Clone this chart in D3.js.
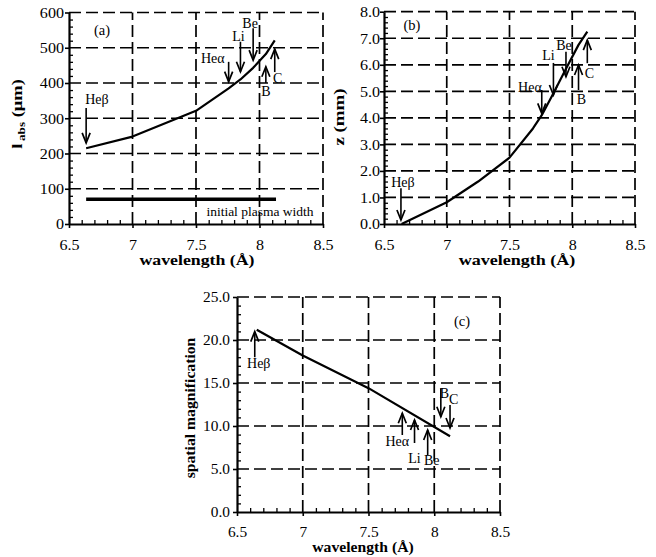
<!DOCTYPE html>
<html><head><meta charset="utf-8">
<script src="https://cdn.jsdelivr.net/npm/d3@7"></script>
<style>
body{margin:0;background:#fff}
svg{display:block}
text{font-family:"Liberation Serif","Times New Roman",serif;fill:#000}
</style>
</head><body>
<svg id="chart" width="656" height="557"></svg>
<script>
// ---------- data ----------
const wavelengthTicks = [6.5, 7, 7.5, 8, 8.5];
const absTicks = [0, 100, 200, 300, 400, 500, 600];
const zTicks = [0, 1, 2, 3, 4, 5, 6, 7, 8];
const magTicks = [0, 5, 10, 15, 20, 25];

// (a) absorption length l_abs (µm) vs wavelength (Å)
const absWl  = [6.635, 7.0, 7.5, 7.757, 7.85, 7.95, 8.05, 8.12];
const absLen = [215, 248, 321, 385, 410, 443, 482, 521];
// initial plasma width
const plasmaWl = [6.635, 8.13];
const plasmaWidth = 70;

// (b) z (mm) vs wavelength
const zWl  = [6.64, 7.0, 7.25, 7.5, 7.687, 7.757, 7.85, 7.95, 8.05, 8.12];
const zVal = [0, 0.82, 1.6, 2.5, 3.6, 4.1, 4.93, 5.85, 6.75, 7.25];

// (c) spatial magnification vs wavelength
const magWl  = [6.65, 7.0, 7.5, 8.12];
const magVal = [21.2, 18.2, 14.4, 8.8];

// spectral lines marked with arrows
const lineNames = ["Heβ", "Heα", "Li", "Be", "B", "C"];
const lineWl    = [6.635, 7.757, 7.85, 7.95, 8.05, 8.12];
// arrow tail / tip values in each panel's y units
const absArrowTail = [329, 460, 517, 555, 400, 431];
const absArrowTip  = [230, 404, 432, 465, 446, 496];
const zArrowTail = [1.35, 5.05, 6.07, 6.49, 5.05, 6.06];
const zArrowTip  = [0.15, 4.17, 4.86, 5.55, 5.99, 6.93];
const magArrowTail = [18.0, 8.95, 8.02, 6.63, 14.4, 12.44];
const magArrowTip  = [20.97, 11.48, 10.7, 9.53, 11.08, 9.77];

// ---------- layout ----------
const svg = d3.select("#chart");
svg.append("rect").attr("width",656).attr("height",557).attr("fill","#fff");

const panels = [
  { tag:"(a)", xr:[69,323], yr:[224,12.5], yd:[0,600], yTicks:absTicks, yMinor:20, yFmt:d3.format("d"),
    wl:absWl, val:absLen, tail:absArrowTail, tip:absArrowTip,
    labels:[[-1,-4,"start"],[-4,1,"end"],[-2,-1,"middle"],[-3,0,"middle"],[0,13,"middle"],[3,11,"middle"]],
    tagPos:[102,35], tickSx:1.15, tickGap:5, titleSx:1.27, xTitle:[197,265], yTitle:"abs", yTitlePos:[22,114], yTitleSx:1.32, tickBase:26 },
  { tag:"(b)", xr:[384,635], yr:[224,11.7], yd:[0,8], yTicks:zTicks, yMinor:0.2, yFmt:d3.format(".1f"),
    wl:zWl, val:zVal, tail:zArrowTail, tip:zArrowTip,
    labels:[[2,-1,"middle"],[0,2,"end"],[-5,-3,"middle"],[-2,-2,"middle"],[3,14,"middle"],[2,15,"middle"]],
    tagPos:[412,30], tickSx:1.15, tickGap:4, titleSx:1.29, xTitle:[517,265], yTitle:"z (mm)", yTitlePos:[344,117], yTitleSx:1.35, tickBase:26 },
  { tag:"(c)", xr:[237,500], yr:[512,297], yd:[0,25], yTicks:magTicks, yMinor:1, yFmt:d3.format(".1f"),
    wl:magWl, val:magVal, tail:magArrowTail, tip:magArrowTip,
    labels:[[4,11,"middle"],[-5,11,"middle"],[0,20,"middle"],[4,10,"middle"],[-1,10,"start"],[-1,-1,"start"]],
    tagPos:[462,326], tickSx:1.1, tickGap:7, titleSx:1.12, xTitle:[363,552], yTitle:"spatial magnification", yTitlePos:[195,408], yTitleSx:1.12, tickBase:25 }
];

function stretchAxisText(sel, sx){
  sel.each(function(){
    const t = d3.select(this);
    const x = +t.attr("x") || 0;
    t.attr("x", x/sx).attr("transform", `scale(${sx},1)`);
  });
}

function drawPanel(p){
  const g = svg.append("g");
  const x = d3.scaleLinear().domain([6.5,8.5]).range(p.xr);
  const y = d3.scaleLinear().domain(p.yd).range(p.yr);
  const y0 = y(p.yd[0]), yTop = y(p.yd[1]);

  // dashed grid
  g.append("g").selectAll("line").data(wavelengthTicks.slice(1)).join("line")
    .attr("x1",d=>x(d)).attr("x2",d=>x(d)).attr("y1",y0).attr("y2",yTop)
    .attr("stroke","#000").attr("stroke-width",1.7).attr("stroke-dasharray","12,5");
  g.append("g").selectAll("line").data(p.yTicks.slice(1)).join("line")
    .attr("x1",x(6.5)).attr("x2",x(8.5)).attr("y1",d=>y(d)).attr("y2",d=>y(d))
    .attr("stroke","#000").attr("stroke-width",1.7).attr("stroke-dasharray","12,5");

  // minor ticks (inside)
  const minorX = d3.range(65,86).map(v=>v/10).filter(v=>!wavelengthTicks.includes(v));
  const nMinorY = Math.round((p.yd[1]-p.yd[0])/p.yMinor);
  const minorY = d3.range(0,nMinorY+1).map(i=>+(i*p.yMinor).toFixed(3)).filter(v=>!p.yTicks.includes(v));
  const mx = g.append("g").attr("transform",`translate(0,${y0})`)
    .call(d3.axisBottom(x).tickValues(minorX).tickSize(-4).tickFormat(""));
  mx.select(".domain").remove();
  mx.selectAll("line").attr("stroke-width",1.3);
  const my = g.append("g").attr("transform",`translate(${x(6.5)},0)`)
    .call(d3.axisLeft(y).tickValues(minorY).tickSize(-4).tickFormat(""));
  my.select(".domain").remove();
  my.selectAll("line").attr("stroke-width",1.3);

  // major axes
  const ax = g.append("g").attr("transform",`translate(0,${y0})`)
    .call(d3.axisBottom(x).tickValues(wavelengthTicks).tickSize(4).tickSizeOuter(0).tickFormat(d3.format("")));
  ax.select(".domain").attr("stroke-width",2.2);
  ax.selectAll("line").attr("stroke-width",1.6);
  ax.selectAll("text").attr("y",p.tickBase).attr("dy",0).attr("font-size",14)
    .attr("font-family",'"Liberation Serif",serif');
  stretchAxisText(ax.selectAll("text"), p.tickSx);

  const ay = g.append("g").attr("transform",`translate(${x(6.5)},0)`)
    .call(d3.axisLeft(y).tickValues(p.yTicks).tickSize(4).tickSizeOuter(0).tickFormat(p.yFmt));
  ay.select(".domain").attr("stroke-width",2.2);
  ay.selectAll("line").attr("stroke-width",1.6);
  ay.selectAll("text").attr("x",-p.tickGap).attr("dy","0.34em").attr("font-size",14)
    .attr("font-family",'"Liberation Serif",serif');
  stretchAxisText(ay.selectAll("text"), p.tickSx);

  // data curve
  const pts = p.wl.map((w,i)=>[w,p.val[i]]);
  g.append("path").datum(pts)
    .attr("d", d3.line().x(d=>x(d[0])).y(d=>y(d[1])))
    .attr("fill","none").attr("stroke","#000").attr("stroke-width",2.2).attr("stroke-linejoin","round");

  // arrows marking spectral lines
  lineWl.forEach((w,i)=>{
    const ax_ = x(w), yt = y(p.tail[i]), yp = y(p.tip[i]);
    const dir = yp > yt ? 1 : -1;
    g.append("line").attr("x1",ax_).attr("x2",ax_).attr("y1",yt).attr("y2",yp)
      .attr("stroke","#000").attr("stroke-width",1.6);
    g.append("path")
      .attr("d",`M${ax_-4},${yp-dir*10}L${ax_},${yp}L${ax_+4},${yp-dir*10}`)
      .attr("fill","none").attr("stroke","#000").attr("stroke-width",1.7);
    const [dx,dy,anc] = p.labels[i];
    g.append("text").attr("x",ax_+dx).attr("y",yt+dy)
      .attr("text-anchor", anc)
      .attr("font-size",14).text(lineNames[i]);
  });

  // panel tag
  g.append("text").attr("x",p.tagPos[0]).attr("y",p.tagPos[1]).attr("text-anchor","middle")
    .attr("font-size",14.5).text(p.tag);

  // x title
  g.append("text").attr("transform",`translate(${p.xTitle[0]},${p.xTitle[1]}) scale(${p.titleSx},1)`)
    .attr("text-anchor","middle").attr("font-size",14).attr("font-weight","bold").text("wavelength (Å)");

  // y title
  const yt = g.append("text")
    .attr("transform",`translate(${p.yTitlePos[0]},${p.yTitlePos[1]}) rotate(-90) scale(${p.yTitleSx},1)`)
    .attr("text-anchor","middle").attr("font-size",14).attr("font-weight","bold");
  if (p.yTitle === "abs"){
    yt.append("tspan").text("l");
    yt.append("tspan").attr("font-size",10).attr("dy",3).attr("dx",2).text("abs");
    yt.append("tspan").attr("dy",-3).text(" (μm)");
  } else {
    yt.text(p.yTitle);
  }
  return {g,x,y};
}

const pa = drawPanel(panels[0]);
drawPanel(panels[1]);
drawPanel(panels[2]);

// initial plasma width (panel a)
pa.g.append("line")
  .attr("x1",pa.x(plasmaWl[0])).attr("x2",pa.x(plasmaWl[1]))
  .attr("y1",pa.y(plasmaWidth)).attr("y2",pa.y(plasmaWidth))
  .attr("stroke","#000").attr("stroke-width",3.5);
pa.g.append("text").attr("x",260).attr("y",216).attr("text-anchor","middle")
  .attr("font-size",13.5).text("initial plasma width");
</script>
</body></html>
